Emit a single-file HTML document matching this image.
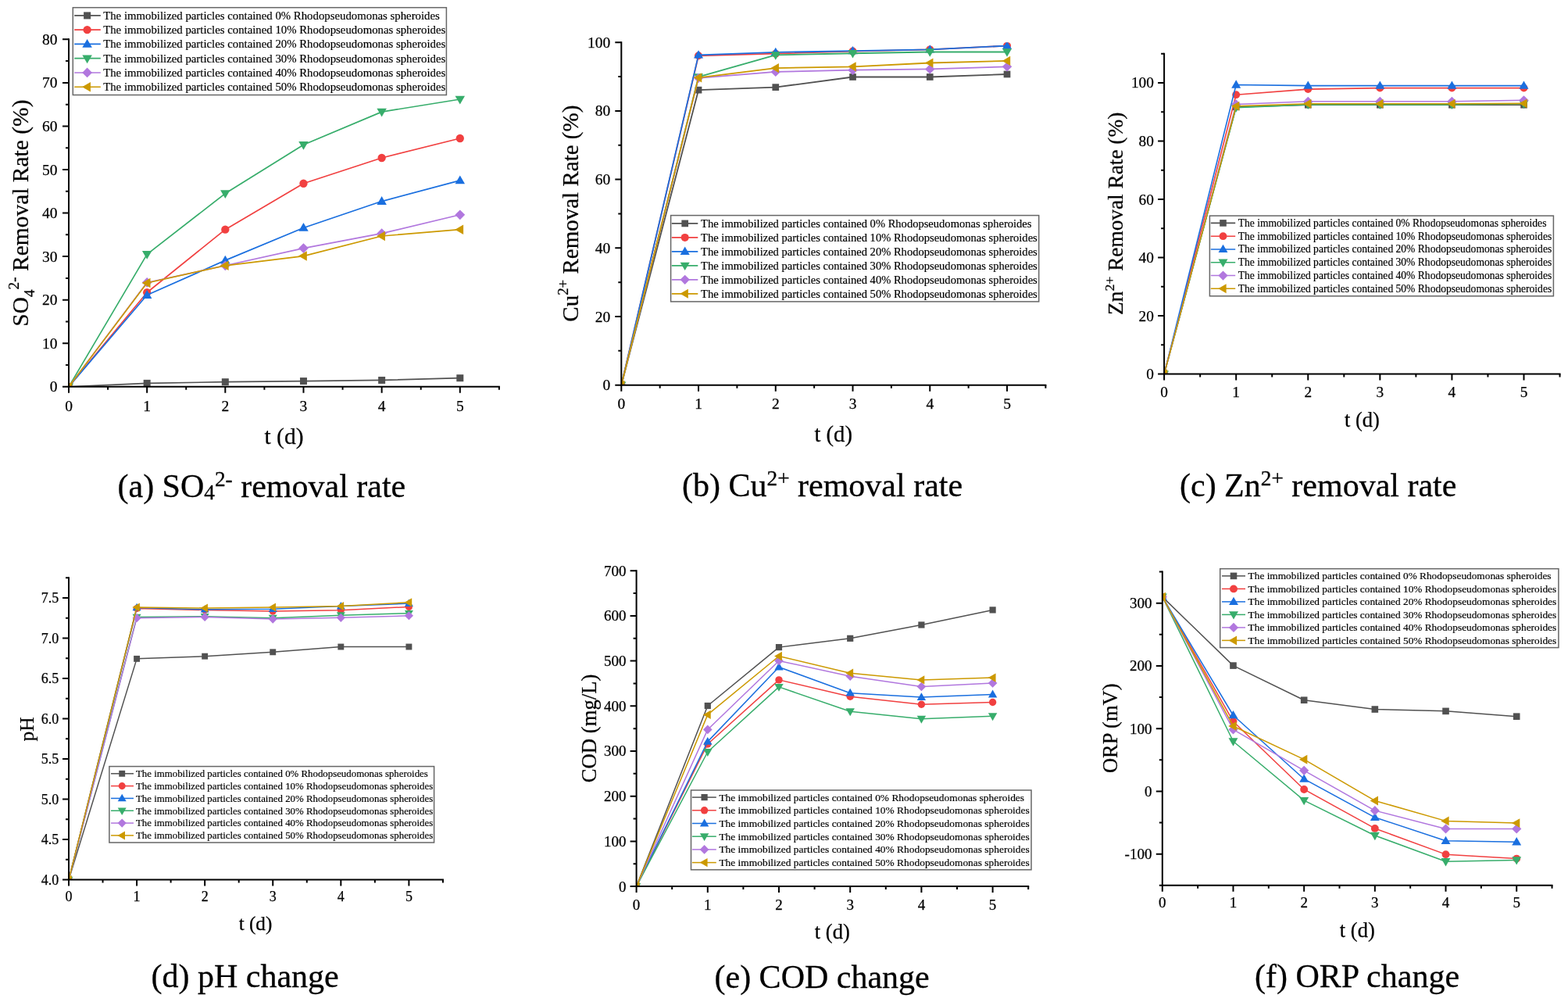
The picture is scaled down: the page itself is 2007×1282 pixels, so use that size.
<!DOCTYPE html>
<html><head><meta charset="utf-8"><title>Figure</title>
<style>
html,body{margin:0;padding:0;background:#fff;width:2007px;height:1282px;overflow:hidden;}
svg{display:block;}
text{font-family:'Liberation Serif', serif;fill:#000;stroke:#000;stroke-width:0.25px;}
text.lg{stroke-width:0.18px;}
text.cp{stroke-width:0.3px;}
</style></head>
<body>
<svg width="2007" height="1282" viewBox="0 0 2007 1282">
<rect width="2007" height="1282" fill="#fff"/>
<clipPath id="c0"><rect x="88.00" y="50.32" width="550.88" height="444.48"/></clipPath>
<g clip-path="url(#c0)">
<path d="M88.00,494.80 L188.16,490.36 L288.32,488.69 L388.48,487.58 L488.64,486.47 L588.80,483.69" fill="none" stroke="#515151" stroke-width="1.7" stroke-linejoin="round"/>
<rect x="83.50" y="490.30" width="9.00" height="9.00" fill="#515151"/>
<rect x="183.66" y="485.86" width="9.00" height="9.00" fill="#515151"/>
<rect x="283.82" y="484.19" width="9.00" height="9.00" fill="#515151"/>
<rect x="383.98" y="483.08" width="9.00" height="9.00" fill="#515151"/>
<rect x="484.14" y="481.97" width="9.00" height="9.00" fill="#515151"/>
<rect x="584.30" y="479.19" width="9.00" height="9.00" fill="#515151"/>
<path d="M88.00,494.80 L188.16,374.23 L288.32,293.67 L388.48,234.78 L488.64,202.00 L588.80,177.00" fill="none" stroke="#F14040" stroke-width="1.7" stroke-linejoin="round"/>
<circle cx="88.00" cy="494.80" r="5.17" fill="#F14040"/>
<circle cx="188.16" cy="374.23" r="5.17" fill="#F14040"/>
<circle cx="288.32" cy="293.67" r="5.17" fill="#F14040"/>
<circle cx="388.48" cy="234.78" r="5.17" fill="#F14040"/>
<circle cx="488.64" cy="202.00" r="5.17" fill="#F14040"/>
<circle cx="588.80" cy="177.00" r="5.17" fill="#F14040"/>
<path d="M88.00,494.80 L188.16,377.57 L288.32,333.12 L388.48,291.45 L488.64,257.56 L588.80,230.89" fill="none" stroke="#1A6FDF" stroke-width="1.7" stroke-linejoin="round"/>
<polygon points="88.00,488.32 81.75,499.12 94.25,499.12" fill="#1A6FDF"/>
<polygon points="188.16,371.09 181.91,381.89 194.41,381.89" fill="#1A6FDF"/>
<polygon points="288.32,326.64 282.06,337.44 294.57,337.44" fill="#1A6FDF"/>
<polygon points="388.48,284.97 382.23,295.77 394.74,295.77" fill="#1A6FDF"/>
<polygon points="488.64,251.08 482.38,261.88 494.89,261.88" fill="#1A6FDF"/>
<polygon points="588.80,224.41 582.54,235.21 595.05,235.21" fill="#1A6FDF"/>
<path d="M88.00,494.80 L188.16,325.34 L288.32,247.56 L388.48,185.33 L488.64,143.11 L588.80,126.99" fill="none" stroke="#37AD6B" stroke-width="1.7" stroke-linejoin="round"/>
<polygon points="88.00,501.28 81.75,490.48 94.25,490.48" fill="#37AD6B"/>
<polygon points="188.16,331.82 181.91,321.02 194.41,321.02" fill="#37AD6B"/>
<polygon points="288.32,254.04 282.06,243.24 294.57,243.24" fill="#37AD6B"/>
<polygon points="388.48,191.81 382.23,181.01 394.74,181.01" fill="#37AD6B"/>
<polygon points="488.64,149.59 482.38,138.79 494.89,138.79" fill="#37AD6B"/>
<polygon points="588.80,133.47 582.54,122.67 595.05,122.67" fill="#37AD6B"/>
<path d="M88.00,494.80 L188.16,361.46 L288.32,339.79 L388.48,317.56 L488.64,298.67 L588.80,274.78" fill="none" stroke="#B177DE" stroke-width="1.7" stroke-linejoin="round"/>
<polygon points="88.00,488.41 94.39,494.80 88.00,501.19 81.61,494.80" fill="#B177DE"/>
<polygon points="188.16,355.07 194.55,361.46 188.16,367.85 181.77,361.46" fill="#B177DE"/>
<polygon points="288.32,333.40 294.71,339.79 288.32,346.18 281.93,339.79" fill="#B177DE"/>
<polygon points="388.48,311.17 394.87,317.56 388.48,323.95 382.09,317.56" fill="#B177DE"/>
<polygon points="488.64,292.28 495.03,298.67 488.64,305.06 482.25,298.67" fill="#B177DE"/>
<polygon points="588.80,268.39 595.19,274.78 588.80,281.17 582.41,274.78" fill="#B177DE"/>
<path d="M88.00,494.80 L188.16,362.01 L288.32,339.79 L388.48,327.56 L488.64,302.01 L588.80,293.67" fill="none" stroke="#CC9900" stroke-width="1.7" stroke-linejoin="round"/>
<polygon points="81.52,494.80 92.32,488.55 92.32,501.06" fill="#CC9900"/>
<polygon points="181.68,362.01 192.48,355.76 192.48,368.27" fill="#CC9900"/>
<polygon points="281.84,339.79 292.64,333.53 292.64,346.04" fill="#CC9900"/>
<polygon points="382.00,327.56 392.80,321.31 392.80,333.82" fill="#CC9900"/>
<polygon points="482.16,302.01 492.96,295.75 492.96,308.26" fill="#CC9900"/>
<polygon points="582.32,293.67 593.12,287.42 593.12,299.93" fill="#CC9900"/>
</g>
<path d="M88.00,49.32 V494.80 H639.88" fill="none" stroke="#000" stroke-width="2.0" stroke-linecap="butt" stroke-linejoin="miter"/>
<path d="M88.00,494.80 v8.00 M138.08,494.80 v4.00 M188.16,494.80 v8.00 M238.24,494.80 v4.00 M288.32,494.80 v8.00 M338.40,494.80 v4.00 M388.48,494.80 v8.00 M438.56,494.80 v4.00 M488.64,494.80 v8.00 M538.72,494.80 v4.00 M588.80,494.80 v8.00 M638.88,494.80 v4.00 M88.00,494.80 h-8.00 M88.00,467.02 h-4.00 M88.00,439.24 h-8.00 M88.00,411.46 h-4.00 M88.00,383.68 h-8.00 M88.00,355.90 h-4.00 M88.00,328.12 h-8.00 M88.00,300.34 h-4.00 M88.00,272.56 h-8.00 M88.00,244.78 h-4.00 M88.00,217.00 h-8.00 M88.00,189.22 h-4.00 M88.00,161.44 h-8.00 M88.00,133.66 h-4.00 M88.00,105.88 h-8.00 M88.00,78.10 h-4.00 M88.00,50.32 h-8.00" fill="none" stroke="#000" stroke-width="2.0"/>
<text x="88.00" y="525.80" font-size="19.5" text-anchor="middle">0</text>
<text x="188.16" y="525.80" font-size="19.5" text-anchor="middle">1</text>
<text x="288.32" y="525.80" font-size="19.5" text-anchor="middle">2</text>
<text x="388.48" y="525.80" font-size="19.5" text-anchor="middle">3</text>
<text x="488.64" y="525.80" font-size="19.5" text-anchor="middle">4</text>
<text x="588.80" y="525.80" font-size="19.5" text-anchor="middle">5</text>
<text x="73.50" y="501.39" font-size="19.5" text-anchor="end">0</text>
<text x="73.50" y="445.83" font-size="19.5" text-anchor="end">10</text>
<text x="73.50" y="390.27" font-size="19.5" text-anchor="end">20</text>
<text x="73.50" y="334.71" font-size="19.5" text-anchor="end">30</text>
<text x="73.50" y="279.15" font-size="19.5" text-anchor="end">40</text>
<text x="73.50" y="223.59" font-size="19.5" text-anchor="end">50</text>
<text x="73.50" y="168.03" font-size="19.5" text-anchor="end">60</text>
<text x="73.50" y="112.47" font-size="19.5" text-anchor="end">70</text>
<text x="73.50" y="56.91" font-size="19.5" text-anchor="end">80</text>
<rect x="93.30" y="9.70" width="478.10" height="111.80" fill="#fff" stroke="#666" stroke-width="1.5"/>
<line x1="95.20" y1="19.90" x2="128.80" y2="19.90" stroke="#515151" stroke-width="1.7"/>
<rect x="107.10" y="15.40" width="9.00" height="9.00" fill="#515151"/>
<text x="132.20" y="24.78" font-size="14.8" text-anchor="start" class="lg">The immobilized particles contained 0% Rhodopseudomonas spheroides</text>
<line x1="95.20" y1="38.17" x2="128.80" y2="38.17" stroke="#F14040" stroke-width="1.7"/>
<circle cx="111.60" cy="38.17" r="5.17" fill="#F14040"/>
<text x="132.20" y="43.05" font-size="14.8" text-anchor="start" class="lg">The immobilized particles contained 10% Rhodopseudomonas spheroides</text>
<line x1="95.20" y1="56.44" x2="128.80" y2="56.44" stroke="#1A6FDF" stroke-width="1.7"/>
<polygon points="111.60,49.96 105.34,60.76 117.85,60.76" fill="#1A6FDF"/>
<text x="132.20" y="61.32" font-size="14.8" text-anchor="start" class="lg">The immobilized particles contained 20% Rhodopseudomonas spheroides</text>
<line x1="95.20" y1="74.71" x2="128.80" y2="74.71" stroke="#37AD6B" stroke-width="1.7"/>
<polygon points="111.60,81.19 105.34,70.39 117.85,70.39" fill="#37AD6B"/>
<text x="132.20" y="79.59" font-size="14.8" text-anchor="start" class="lg">The immobilized particles contained 30% Rhodopseudomonas spheroides</text>
<line x1="95.20" y1="92.98" x2="128.80" y2="92.98" stroke="#B177DE" stroke-width="1.7"/>
<polygon points="111.60,86.59 117.99,92.98 111.60,99.37 105.21,92.98" fill="#B177DE"/>
<text x="132.20" y="97.86" font-size="14.8" text-anchor="start" class="lg">The immobilized particles contained 40% Rhodopseudomonas spheroides</text>
<line x1="95.20" y1="111.25" x2="128.80" y2="111.25" stroke="#CC9900" stroke-width="1.7"/>
<polygon points="105.12,111.25 115.92,105.00 115.92,117.50" fill="#CC9900"/>
<text x="132.20" y="116.13" font-size="14.8" text-anchor="start" class="lg">The immobilized particles contained 50% Rhodopseudomonas spheroides</text>
<text transform="translate(36.00,272.60) rotate(-90)" font-size="29.5" text-anchor="middle">SO<tspan font-size="19.18" dy="7.67">4</tspan><tspan font-size="19.18" dy="-20.06">2-</tspan><tspan dy="12.39"> Removal Rate (%)</tspan></text>
<text x="363.50" y="567.80" font-size="29.5" text-anchor="middle">t (d)</text>
<text class="cp" x="150.50" y="636.00" font-size="42">(a) SO<tspan font-size="27.30" dy="2.94">4</tspan><tspan font-size="27.30" dy="-17.43">2-</tspan><tspan dy="14.49"> removal rate</tspan></text>
<clipPath id="c1"><rect x="795.30" y="54.20" width="543.07" height="438.50"/></clipPath>
<g clip-path="url(#c1)">
<path d="M795.30,492.70 L894.04,115.15 L992.78,111.64 L1091.52,98.49 L1190.26,98.49 L1289.00,94.98" fill="none" stroke="#515151" stroke-width="1.8" stroke-linejoin="round"/>
<rect x="790.95" y="488.35" width="8.70" height="8.70" fill="#515151"/>
<rect x="889.69" y="110.80" width="8.70" height="8.70" fill="#515151"/>
<rect x="988.43" y="107.29" width="8.70" height="8.70" fill="#515151"/>
<rect x="1087.17" y="94.14" width="8.70" height="8.70" fill="#515151"/>
<rect x="1185.91" y="94.14" width="8.70" height="8.70" fill="#515151"/>
<rect x="1284.65" y="90.63" width="8.70" height="8.70" fill="#515151"/>
<path d="M795.30,492.70 L894.04,71.30 L992.78,68.67 L1091.52,65.60 L1190.26,63.41 L1289.00,58.59" fill="none" stroke="#F14040" stroke-width="1.8" stroke-linejoin="round"/>
<circle cx="795.30" cy="492.70" r="5.00" fill="#F14040"/>
<circle cx="894.04" cy="71.30" r="5.00" fill="#F14040"/>
<circle cx="992.78" cy="68.67" r="5.00" fill="#F14040"/>
<circle cx="1091.52" cy="65.60" r="5.00" fill="#F14040"/>
<circle cx="1190.26" cy="63.41" r="5.00" fill="#F14040"/>
<circle cx="1289.00" cy="58.59" r="5.00" fill="#F14040"/>
<path d="M795.30,492.70 L894.04,70.42 L992.78,66.92 L1091.52,65.16 L1190.26,63.41 L1289.00,58.59" fill="none" stroke="#1A6FDF" stroke-width="1.8" stroke-linejoin="round"/>
<polygon points="795.30,486.44 789.25,496.88 801.35,496.88" fill="#1A6FDF"/>
<polygon points="894.04,64.16 887.99,74.60 900.09,74.60" fill="#1A6FDF"/>
<polygon points="992.78,60.65 986.73,71.09 998.83,71.09" fill="#1A6FDF"/>
<polygon points="1091.52,58.90 1085.47,69.34 1097.57,69.34" fill="#1A6FDF"/>
<polygon points="1190.26,57.14 1184.21,67.58 1196.31,67.58" fill="#1A6FDF"/>
<polygon points="1289.00,52.32 1282.95,62.76 1295.05,62.76" fill="#1A6FDF"/>
<path d="M795.30,492.70 L894.04,98.49 L992.78,70.42 L1091.52,68.23 L1190.26,66.48 L1289.00,66.48" fill="none" stroke="#37AD6B" stroke-width="1.8" stroke-linejoin="round"/>
<polygon points="795.30,498.96 789.25,488.52 801.35,488.52" fill="#37AD6B"/>
<polygon points="894.04,104.75 887.99,94.31 900.09,94.31" fill="#37AD6B"/>
<polygon points="992.78,76.69 986.73,66.25 998.83,66.25" fill="#37AD6B"/>
<polygon points="1091.52,74.50 1085.47,64.06 1097.57,64.06" fill="#37AD6B"/>
<polygon points="1190.26,72.74 1184.21,62.30 1196.31,62.30" fill="#37AD6B"/>
<polygon points="1289.00,72.74 1282.95,62.30 1295.05,62.30" fill="#37AD6B"/>
<path d="M795.30,492.70 L894.04,99.80 L992.78,91.91 L1091.52,89.72 L1190.26,88.40 L1289.00,85.33" fill="none" stroke="#B177DE" stroke-width="1.8" stroke-linejoin="round"/>
<polygon points="795.30,486.52 801.48,492.70 795.30,498.88 789.12,492.70" fill="#B177DE"/>
<polygon points="894.04,93.63 900.22,99.80 894.04,105.98 887.86,99.80" fill="#B177DE"/>
<polygon points="992.78,85.73 998.96,91.91 992.78,98.09 986.60,91.91" fill="#B177DE"/>
<polygon points="1091.52,83.54 1097.70,89.72 1091.52,95.90 1085.34,89.72" fill="#B177DE"/>
<polygon points="1190.26,82.23 1196.44,88.40 1190.26,94.58 1184.08,88.40" fill="#B177DE"/>
<polygon points="1289.00,79.16 1295.18,85.33 1289.00,91.51 1282.82,85.33" fill="#B177DE"/>
<path d="M795.30,492.70 L894.04,99.37 L992.78,87.09 L1091.52,85.33 L1190.26,80.51 L1289.00,77.88" fill="none" stroke="#CC9900" stroke-width="1.8" stroke-linejoin="round"/>
<polygon points="789.04,492.70 799.48,486.65 799.48,498.75" fill="#CC9900"/>
<polygon points="887.78,99.37 898.22,93.32 898.22,105.41" fill="#CC9900"/>
<polygon points="986.52,87.09 996.96,81.04 996.96,93.13" fill="#CC9900"/>
<polygon points="1085.26,85.33 1095.70,79.29 1095.70,91.38" fill="#CC9900"/>
<polygon points="1184.00,80.51 1194.44,74.46 1194.44,86.56" fill="#CC9900"/>
<polygon points="1282.74,77.88 1293.18,71.83 1293.18,83.93" fill="#CC9900"/>
</g>
<path d="M795.30,53.20 V492.70 H1339.37" fill="none" stroke="#000" stroke-width="2.0" stroke-linecap="butt" stroke-linejoin="miter"/>
<path d="M795.30,492.70 v8.00 M844.67,492.70 v4.00 M894.04,492.70 v8.00 M943.41,492.70 v4.00 M992.78,492.70 v8.00 M1042.15,492.70 v4.00 M1091.52,492.70 v8.00 M1140.89,492.70 v4.00 M1190.26,492.70 v8.00 M1239.63,492.70 v4.00 M1289.00,492.70 v8.00 M1338.37,492.70 v4.00 M795.30,492.70 h-8.00 M795.30,448.85 h-4.00 M795.30,405.00 h-8.00 M795.30,361.15 h-4.00 M795.30,317.30 h-8.00 M795.30,273.45 h-4.00 M795.30,229.60 h-8.00 M795.30,185.75 h-4.00 M795.30,141.90 h-8.00 M795.30,98.05 h-4.00 M795.30,54.20 h-8.00" fill="none" stroke="#000" stroke-width="2.0"/>
<text x="795.30" y="522.50" font-size="19.5" text-anchor="middle">0</text>
<text x="894.04" y="522.50" font-size="19.5" text-anchor="middle">1</text>
<text x="992.78" y="522.50" font-size="19.5" text-anchor="middle">2</text>
<text x="1091.52" y="522.50" font-size="19.5" text-anchor="middle">3</text>
<text x="1190.26" y="522.50" font-size="19.5" text-anchor="middle">4</text>
<text x="1289.00" y="522.50" font-size="19.5" text-anchor="middle">5</text>
<text x="781.20" y="499.29" font-size="19.5" text-anchor="end">0</text>
<text x="781.20" y="411.59" font-size="19.5" text-anchor="end">20</text>
<text x="781.20" y="323.89" font-size="19.5" text-anchor="end">40</text>
<text x="781.20" y="236.19" font-size="19.5" text-anchor="end">60</text>
<text x="781.20" y="148.49" font-size="19.5" text-anchor="end">80</text>
<text x="781.20" y="60.79" font-size="19.5" text-anchor="end">100</text>
<rect x="858.60" y="275.60" width="471.10" height="110.30" fill="#fff" stroke="#666" stroke-width="1.5"/>
<line x1="859.80" y1="285.90" x2="893.30" y2="285.90" stroke="#515151" stroke-width="1.8"/>
<rect x="872.35" y="281.55" width="8.70" height="8.70" fill="#515151"/>
<text x="897.10" y="290.70" font-size="14.55" text-anchor="start" class="lg">The immobilized particles contained 0% Rhodopseudomonas spheroides</text>
<line x1="859.80" y1="303.88" x2="893.30" y2="303.88" stroke="#F14040" stroke-width="1.8"/>
<circle cx="876.70" cy="303.88" r="5.00" fill="#F14040"/>
<text x="897.10" y="308.68" font-size="14.55" text-anchor="start" class="lg">The immobilized particles contained 10% Rhodopseudomonas spheroides</text>
<line x1="859.80" y1="321.86" x2="893.30" y2="321.86" stroke="#1A6FDF" stroke-width="1.8"/>
<polygon points="876.70,315.60 870.65,326.04 882.75,326.04" fill="#1A6FDF"/>
<text x="897.10" y="326.66" font-size="14.55" text-anchor="start" class="lg">The immobilized particles contained 20% Rhodopseudomonas spheroides</text>
<line x1="859.80" y1="339.84" x2="893.30" y2="339.84" stroke="#37AD6B" stroke-width="1.8"/>
<polygon points="876.70,346.10 870.65,335.66 882.75,335.66" fill="#37AD6B"/>
<text x="897.10" y="344.64" font-size="14.55" text-anchor="start" class="lg">The immobilized particles contained 30% Rhodopseudomonas spheroides</text>
<line x1="859.80" y1="357.82" x2="893.30" y2="357.82" stroke="#B177DE" stroke-width="1.8"/>
<polygon points="876.70,351.64 882.88,357.82 876.70,364.00 870.52,357.82" fill="#B177DE"/>
<text x="897.10" y="362.62" font-size="14.55" text-anchor="start" class="lg">The immobilized particles contained 40% Rhodopseudomonas spheroides</text>
<line x1="859.80" y1="375.80" x2="893.30" y2="375.80" stroke="#CC9900" stroke-width="1.8"/>
<polygon points="870.44,375.80 880.88,369.75 880.88,381.85" fill="#CC9900"/>
<text x="897.10" y="380.60" font-size="14.55" text-anchor="start" class="lg">The immobilized particles contained 50% Rhodopseudomonas spheroides</text>
<text transform="translate(739.50,273.20) rotate(-90)" font-size="29" text-anchor="middle">Cu<tspan font-size="18.85" dy="-12.18">2+</tspan><tspan dy="12.18"> Removal Rate (%)</tspan></text>
<text x="1066.70" y="565.00" font-size="28.7" text-anchor="middle">t (d)</text>
<text class="cp" x="873.00" y="635.40" font-size="42">(b) Cu<tspan font-size="27.30" dy="-14.49">2+</tspan><tspan dy="14.49"> removal rate</tspan></text>
<clipPath id="c2"><rect x="1490.10" y="68.63" width="506.44" height="409.97"/></clipPath>
<g clip-path="url(#c2)">
<path d="M1490.10,478.60 L1582.18,136.83 L1674.26,134.23 L1766.34,134.23 L1858.42,134.23 L1950.50,134.23" fill="none" stroke="#515151" stroke-width="1.6" stroke-linejoin="round"/>
<rect x="1485.80" y="474.30" width="8.60" height="8.60" fill="#515151"/>
<rect x="1577.88" y="132.53" width="8.60" height="8.60" fill="#515151"/>
<rect x="1669.96" y="129.93" width="8.60" height="8.60" fill="#515151"/>
<rect x="1762.04" y="129.93" width="8.60" height="8.60" fill="#515151"/>
<rect x="1854.12" y="129.93" width="8.60" height="8.60" fill="#515151"/>
<rect x="1946.20" y="129.93" width="8.60" height="8.60" fill="#515151"/>
<path d="M1490.10,478.60 L1582.18,121.18 L1674.26,114.10 L1766.34,112.61 L1858.42,112.61 L1950.50,112.61" fill="none" stroke="#F14040" stroke-width="1.6" stroke-linejoin="round"/>
<circle cx="1490.10" cy="478.60" r="4.94" fill="#F14040"/>
<circle cx="1582.18" cy="121.18" r="4.94" fill="#F14040"/>
<circle cx="1674.26" cy="114.10" r="4.94" fill="#F14040"/>
<circle cx="1766.34" cy="112.61" r="4.94" fill="#F14040"/>
<circle cx="1858.42" cy="112.61" r="4.94" fill="#F14040"/>
<circle cx="1950.50" cy="112.61" r="4.94" fill="#F14040"/>
<path d="M1490.10,478.60 L1582.18,108.51 L1674.26,109.63 L1766.34,109.63 L1858.42,109.63 L1950.50,109.63" fill="none" stroke="#1A6FDF" stroke-width="1.6" stroke-linejoin="round"/>
<polygon points="1490.10,472.41 1484.12,482.73 1496.08,482.73" fill="#1A6FDF"/>
<polygon points="1582.18,102.32 1576.20,112.64 1588.16,112.64" fill="#1A6FDF"/>
<polygon points="1674.26,103.44 1668.28,113.76 1680.24,113.76" fill="#1A6FDF"/>
<polygon points="1766.34,103.44 1760.36,113.76 1772.32,113.76" fill="#1A6FDF"/>
<polygon points="1858.42,103.44 1852.44,113.76 1864.40,113.76" fill="#1A6FDF"/>
<polygon points="1950.50,103.44 1944.52,113.76 1956.48,113.76" fill="#1A6FDF"/>
<path d="M1490.10,478.60 L1582.18,137.58 L1674.26,133.85 L1766.34,133.85 L1858.42,133.85 L1950.50,132.73" fill="none" stroke="#37AD6B" stroke-width="1.6" stroke-linejoin="round"/>
<polygon points="1490.10,484.79 1484.12,474.47 1496.08,474.47" fill="#37AD6B"/>
<polygon points="1582.18,143.77 1576.20,133.45 1588.16,133.45" fill="#37AD6B"/>
<polygon points="1674.26,140.04 1668.28,129.72 1680.24,129.72" fill="#37AD6B"/>
<polygon points="1766.34,140.04 1760.36,129.72 1772.32,129.72" fill="#37AD6B"/>
<polygon points="1858.42,140.04 1852.44,129.72 1864.40,129.72" fill="#37AD6B"/>
<polygon points="1950.50,138.93 1944.52,128.61 1956.48,128.61" fill="#37AD6B"/>
<path d="M1490.10,478.60 L1582.18,133.48 L1674.26,129.75 L1766.34,129.75 L1858.42,129.75 L1950.50,128.26" fill="none" stroke="#B177DE" stroke-width="1.6" stroke-linejoin="round"/>
<polygon points="1490.10,472.49 1496.21,478.60 1490.10,484.71 1483.99,478.60" fill="#B177DE"/>
<polygon points="1582.18,127.37 1588.29,133.48 1582.18,139.59 1576.07,133.48" fill="#B177DE"/>
<polygon points="1674.26,123.65 1680.37,129.75 1674.26,135.86 1668.15,129.75" fill="#B177DE"/>
<polygon points="1766.34,123.65 1772.45,129.75 1766.34,135.86 1760.23,129.75" fill="#B177DE"/>
<polygon points="1858.42,123.65 1864.53,129.75 1858.42,135.86 1852.31,129.75" fill="#B177DE"/>
<polygon points="1950.50,122.16 1956.61,128.26 1950.50,134.37 1944.39,128.26" fill="#B177DE"/>
<path d="M1490.10,478.60 L1582.18,135.72 L1674.26,132.73 L1766.34,132.73 L1858.42,132.73 L1950.50,132.36" fill="none" stroke="#CC9900" stroke-width="1.6" stroke-linejoin="round"/>
<polygon points="1483.91,478.60 1494.23,472.62 1494.23,484.58" fill="#CC9900"/>
<polygon points="1575.99,135.72 1586.31,129.74 1586.31,141.69" fill="#CC9900"/>
<polygon points="1668.07,132.73 1678.39,126.76 1678.39,138.71" fill="#CC9900"/>
<polygon points="1760.15,132.73 1770.47,126.76 1770.47,138.71" fill="#CC9900"/>
<polygon points="1852.23,132.73 1862.55,126.76 1862.55,138.71" fill="#CC9900"/>
<polygon points="1944.31,132.36 1954.63,126.38 1954.63,138.34" fill="#CC9900"/>
</g>
<path d="M1490.10,67.63 V478.60 H1997.54" fill="none" stroke="#000" stroke-width="2.0" stroke-linecap="butt" stroke-linejoin="miter"/>
<path d="M1490.10,478.60 v8.00 M1536.14,478.60 v4.00 M1582.18,478.60 v8.00 M1628.22,478.60 v4.00 M1674.26,478.60 v8.00 M1720.30,478.60 v4.00 M1766.34,478.60 v8.00 M1812.38,478.60 v4.00 M1858.42,478.60 v8.00 M1904.46,478.60 v4.00 M1950.50,478.60 v8.00 M1996.54,478.60 v4.00 M1490.10,478.60 h-8.00 M1490.10,441.33 h-4.00 M1490.10,404.06 h-8.00 M1490.10,366.79 h-4.00 M1490.10,329.52 h-8.00 M1490.10,292.25 h-4.00 M1490.10,254.98 h-8.00 M1490.10,217.71 h-4.00 M1490.10,180.44 h-8.00 M1490.10,143.17 h-4.00 M1490.10,105.90 h-8.00 M1490.10,68.63 h-4.00" fill="none" stroke="#000" stroke-width="2.0"/>
<text x="1490.10" y="507.70" font-size="19.3" text-anchor="middle">0</text>
<text x="1582.18" y="507.70" font-size="19.3" text-anchor="middle">1</text>
<text x="1674.26" y="507.70" font-size="19.3" text-anchor="middle">2</text>
<text x="1766.34" y="507.70" font-size="19.3" text-anchor="middle">3</text>
<text x="1858.42" y="507.70" font-size="19.3" text-anchor="middle">4</text>
<text x="1950.50" y="507.70" font-size="19.3" text-anchor="middle">5</text>
<text x="1476.90" y="485.12" font-size="19.3" text-anchor="end">0</text>
<text x="1476.90" y="410.58" font-size="19.3" text-anchor="end">20</text>
<text x="1476.90" y="336.04" font-size="19.3" text-anchor="end">40</text>
<text x="1476.90" y="261.50" font-size="19.3" text-anchor="end">60</text>
<text x="1476.90" y="186.96" font-size="19.3" text-anchor="end">80</text>
<text x="1476.90" y="112.42" font-size="19.3" text-anchor="end">100</text>
<rect x="1548.40" y="276.10" width="440.00" height="102.70" fill="#fff" stroke="#666" stroke-width="1.5"/>
<line x1="1549.80" y1="285.40" x2="1581.20" y2="285.40" stroke="#515151" stroke-width="1.6"/>
<rect x="1561.20" y="281.10" width="8.60" height="8.60" fill="#515151"/>
<text x="1584.70" y="289.88" font-size="13.57" text-anchor="start" class="lg">The immobilized particles contained 0% Rhodopseudomonas spheroides</text>
<line x1="1549.80" y1="302.18" x2="1581.20" y2="302.18" stroke="#F14040" stroke-width="1.6"/>
<circle cx="1565.50" cy="302.18" r="4.94" fill="#F14040"/>
<text x="1584.70" y="306.66" font-size="13.57" text-anchor="start" class="lg">The immobilized particles contained 10% Rhodopseudomonas spheroides</text>
<line x1="1549.80" y1="318.96" x2="1581.20" y2="318.96" stroke="#1A6FDF" stroke-width="1.6"/>
<polygon points="1565.50,312.77 1559.52,323.09 1571.48,323.09" fill="#1A6FDF"/>
<text x="1584.70" y="323.44" font-size="13.57" text-anchor="start" class="lg">The immobilized particles contained 20% Rhodopseudomonas spheroides</text>
<line x1="1549.80" y1="335.74" x2="1581.20" y2="335.74" stroke="#37AD6B" stroke-width="1.6"/>
<polygon points="1565.50,341.93 1559.52,331.61 1571.48,331.61" fill="#37AD6B"/>
<text x="1584.70" y="340.22" font-size="13.57" text-anchor="start" class="lg">The immobilized particles contained 30% Rhodopseudomonas spheroides</text>
<line x1="1549.80" y1="352.52" x2="1581.20" y2="352.52" stroke="#B177DE" stroke-width="1.6"/>
<polygon points="1565.50,346.41 1571.61,352.52 1565.50,358.63 1559.39,352.52" fill="#B177DE"/>
<text x="1584.70" y="357.00" font-size="13.57" text-anchor="start" class="lg">The immobilized particles contained 40% Rhodopseudomonas spheroides</text>
<line x1="1549.80" y1="369.30" x2="1581.20" y2="369.30" stroke="#CC9900" stroke-width="1.6"/>
<polygon points="1559.31,369.30 1569.63,363.32 1569.63,375.28" fill="#CC9900"/>
<text x="1584.70" y="373.78" font-size="13.57" text-anchor="start" class="lg">The immobilized particles contained 50% Rhodopseudomonas spheroides</text>
<text transform="translate(1437.00,273.30) rotate(-90)" font-size="27.3" text-anchor="middle">Zn<tspan font-size="17.75" dy="-11.47">2+</tspan><tspan dy="11.47"> Removal Rate (%)</tspan></text>
<text x="1743.40" y="545.50" font-size="26.5" text-anchor="middle">t (d)</text>
<text class="cp" x="1510.00" y="635.40" font-size="42">(c) Zn<tspan font-size="27.30" dy="-14.49">2+</tspan><tspan dy="14.49"> removal rate</tspan></text>
<clipPath id="c3"><rect x="88.00" y="739.35" width="478.94" height="386.25"/></clipPath>
<g clip-path="url(#c3)">
<path d="M88.00,1125.60 L175.08,842.86 L262.16,839.67 L349.24,834.32 L436.32,827.52 L523.40,827.52" fill="none" stroke="#515151" stroke-width="1.5" stroke-linejoin="round"/>
<rect x="84.05" y="1121.65" width="7.90" height="7.90" fill="#515151"/>
<rect x="171.13" y="838.91" width="7.90" height="7.90" fill="#515151"/>
<rect x="258.21" y="835.72" width="7.90" height="7.90" fill="#515151"/>
<rect x="345.29" y="830.37" width="7.90" height="7.90" fill="#515151"/>
<rect x="432.37" y="823.57" width="7.90" height="7.90" fill="#515151"/>
<rect x="519.45" y="823.57" width="7.90" height="7.90" fill="#515151"/>
<path d="M88.00,1125.60 L175.08,778.49 L262.16,780.55 L349.24,782.09 L436.32,780.65 L523.40,776.43" fill="none" stroke="#F14040" stroke-width="1.5" stroke-linejoin="round"/>
<circle cx="88.00" cy="1125.60" r="4.54" fill="#F14040"/>
<circle cx="175.08" cy="778.49" r="4.54" fill="#F14040"/>
<circle cx="262.16" cy="780.55" r="4.54" fill="#F14040"/>
<circle cx="349.24" cy="782.09" r="4.54" fill="#F14040"/>
<circle cx="436.32" cy="780.65" r="4.54" fill="#F14040"/>
<circle cx="523.40" cy="776.43" r="4.54" fill="#F14040"/>
<path d="M88.00,1125.60 L175.08,777.46 L262.16,779.83 L349.24,779.31 L436.32,775.61 L523.40,772.10" fill="none" stroke="#1A6FDF" stroke-width="1.5" stroke-linejoin="round"/>
<polygon points="88.00,1119.91 82.51,1129.39 93.49,1129.39" fill="#1A6FDF"/>
<polygon points="175.08,771.77 169.59,781.25 180.57,781.25" fill="#1A6FDF"/>
<polygon points="262.16,774.14 256.67,783.62 267.65,783.62" fill="#1A6FDF"/>
<polygon points="349.24,773.63 343.75,783.11 354.73,783.11" fill="#1A6FDF"/>
<polygon points="436.32,769.92 430.83,779.40 441.81,779.40" fill="#1A6FDF"/>
<polygon points="523.40,766.42 517.91,775.90 528.89,775.90" fill="#1A6FDF"/>
<path d="M88.00,1125.60 L175.08,789.61 L262.16,788.79 L349.24,790.64 L436.32,787.14 L523.40,784.67" fill="none" stroke="#37AD6B" stroke-width="1.5" stroke-linejoin="round"/>
<polygon points="88.00,1131.29 82.51,1121.81 93.49,1121.81" fill="#37AD6B"/>
<polygon points="175.08,795.30 169.59,785.82 180.57,785.82" fill="#37AD6B"/>
<polygon points="262.16,794.48 256.67,785.00 267.65,785.00" fill="#37AD6B"/>
<polygon points="349.24,796.33 343.75,786.85 354.73,786.85" fill="#37AD6B"/>
<polygon points="436.32,792.83 430.83,783.35 441.81,783.35" fill="#37AD6B"/>
<polygon points="523.40,790.36 517.91,780.88 528.89,780.88" fill="#37AD6B"/>
<path d="M88.00,1125.60 L175.08,790.64 L262.16,789.41 L349.24,792.09 L436.32,790.33 L523.40,787.76" fill="none" stroke="#B177DE" stroke-width="1.5" stroke-linejoin="round"/>
<polygon points="88.00,1119.99 93.61,1125.60 88.00,1131.21 82.39,1125.60" fill="#B177DE"/>
<polygon points="175.08,785.03 180.69,790.64 175.08,796.25 169.47,790.64" fill="#B177DE"/>
<polygon points="262.16,783.80 267.77,789.41 262.16,795.02 256.55,789.41" fill="#B177DE"/>
<polygon points="349.24,786.48 354.85,792.09 349.24,797.69 343.63,792.09" fill="#B177DE"/>
<polygon points="436.32,784.73 441.93,790.33 436.32,795.94 430.71,790.33" fill="#B177DE"/>
<polygon points="523.40,782.15 529.01,787.76 523.40,793.37 517.79,787.76" fill="#B177DE"/>
<path d="M88.00,1125.60 L175.08,776.94 L262.16,777.97 L349.24,777.05 L436.32,775.40 L523.40,770.76" fill="none" stroke="#CC9900" stroke-width="1.5" stroke-linejoin="round"/>
<polygon points="82.31,1125.60 91.79,1120.11 91.79,1131.09" fill="#CC9900"/>
<polygon points="169.39,776.94 178.87,771.45 178.87,782.44" fill="#CC9900"/>
<polygon points="256.47,777.97 265.95,772.48 265.95,783.47" fill="#CC9900"/>
<polygon points="343.55,777.05 353.03,771.56 353.03,782.54" fill="#CC9900"/>
<polygon points="430.63,775.40 440.11,769.91 440.11,780.89" fill="#CC9900"/>
<polygon points="517.71,770.76 527.19,765.27 527.19,776.26" fill="#CC9900"/>
</g>
<path d="M88.00,738.35 V1125.60 H567.94" fill="none" stroke="#000" stroke-width="2.0" stroke-linecap="butt" stroke-linejoin="miter"/>
<path d="M88.00,1125.60 v8.00 M131.54,1125.60 v4.00 M175.08,1125.60 v8.00 M218.62,1125.60 v4.00 M262.16,1125.60 v8.00 M305.70,1125.60 v4.00 M349.24,1125.60 v8.00 M392.78,1125.60 v4.00 M436.32,1125.60 v8.00 M479.86,1125.60 v4.00 M523.40,1125.60 v8.00 M566.94,1125.60 v4.00 M88.00,1125.60 h-8.00 M88.00,1099.85 h-4.00 M88.00,1074.10 h-8.00 M88.00,1048.35 h-4.00 M88.00,1022.60 h-8.00 M88.00,996.85 h-4.00 M88.00,971.10 h-8.00 M88.00,945.35 h-4.00 M88.00,919.60 h-8.00 M88.00,893.85 h-4.00 M88.00,868.10 h-8.00 M88.00,842.35 h-4.00 M88.00,816.60 h-8.00 M88.00,790.85 h-4.00 M88.00,765.10 h-8.00 M88.00,739.35 h-4.00" fill="none" stroke="#000" stroke-width="2.0"/>
<text x="88.00" y="1153.10" font-size="18" text-anchor="middle">0</text>
<text x="175.08" y="1153.10" font-size="18" text-anchor="middle">1</text>
<text x="262.16" y="1153.10" font-size="18" text-anchor="middle">2</text>
<text x="349.24" y="1153.10" font-size="18" text-anchor="middle">3</text>
<text x="436.32" y="1153.10" font-size="18" text-anchor="middle">4</text>
<text x="523.40" y="1153.10" font-size="18" text-anchor="middle">5</text>
<text x="75.20" y="1131.68" font-size="18" text-anchor="end">4.0</text>
<text x="75.20" y="1080.18" font-size="18" text-anchor="end">4.5</text>
<text x="75.20" y="1028.68" font-size="18" text-anchor="end">5.0</text>
<text x="75.20" y="977.18" font-size="18" text-anchor="end">5.5</text>
<text x="75.20" y="925.68" font-size="18" text-anchor="end">6.0</text>
<text x="75.20" y="874.18" font-size="18" text-anchor="end">6.5</text>
<text x="75.20" y="822.68" font-size="18" text-anchor="end">7.0</text>
<text x="75.20" y="771.18" font-size="18" text-anchor="end">7.5</text>
<rect x="139.90" y="980.60" width="415.70" height="97.40" fill="#fff" stroke="#666" stroke-width="1.5"/>
<line x1="142.00" y1="989.80" x2="171.00" y2="989.80" stroke="#515151" stroke-width="1.5"/>
<rect x="152.25" y="985.85" width="7.90" height="7.90" fill="#515151"/>
<text x="174.00" y="994.04" font-size="12.85" text-anchor="start" class="lg">The immobilized particles contained 0% Rhodopseudomonas spheroides</text>
<line x1="142.00" y1="1005.62" x2="171.00" y2="1005.62" stroke="#F14040" stroke-width="1.5"/>
<circle cx="156.20" cy="1005.62" r="4.54" fill="#F14040"/>
<text x="174.00" y="1009.86" font-size="12.85" text-anchor="start" class="lg">The immobilized particles contained 10% Rhodopseudomonas spheroides</text>
<line x1="142.00" y1="1021.44" x2="171.00" y2="1021.44" stroke="#1A6FDF" stroke-width="1.5"/>
<polygon points="156.20,1015.75 150.71,1025.23 161.69,1025.23" fill="#1A6FDF"/>
<text x="174.00" y="1025.68" font-size="12.85" text-anchor="start" class="lg">The immobilized particles contained 20% Rhodopseudomonas spheroides</text>
<line x1="142.00" y1="1037.26" x2="171.00" y2="1037.26" stroke="#37AD6B" stroke-width="1.5"/>
<polygon points="156.20,1042.95 150.71,1033.47 161.69,1033.47" fill="#37AD6B"/>
<text x="174.00" y="1041.50" font-size="12.85" text-anchor="start" class="lg">The immobilized particles contained 30% Rhodopseudomonas spheroides</text>
<line x1="142.00" y1="1053.08" x2="171.00" y2="1053.08" stroke="#B177DE" stroke-width="1.5"/>
<polygon points="156.20,1047.47 161.81,1053.08 156.20,1058.69 150.59,1053.08" fill="#B177DE"/>
<text x="174.00" y="1057.32" font-size="12.85" text-anchor="start" class="lg">The immobilized particles contained 40% Rhodopseudomonas spheroides</text>
<line x1="142.00" y1="1068.90" x2="171.00" y2="1068.90" stroke="#CC9900" stroke-width="1.5"/>
<polygon points="150.51,1068.90 159.99,1063.41 159.99,1074.39" fill="#CC9900"/>
<text x="174.00" y="1073.14" font-size="12.85" text-anchor="start" class="lg">The immobilized particles contained 50% Rhodopseudomonas spheroides</text>
<text transform="translate(42.50,933.00) rotate(-90)" font-size="25.5" text-anchor="middle">pH</text>
<text x="327.00" y="1189.90" font-size="25.2" text-anchor="middle">t (d)</text>
<text class="cp" x="193.50" y="1263.20" font-size="42">(d) pH change</text>
<clipPath id="c4"><rect x="814.60" y="730.20" width="501.60" height="403.90"/></clipPath>
<g clip-path="url(#c4)">
<path d="M814.60,1134.10 L905.80,903.01 L997.00,828.12 L1088.20,816.81 L1179.40,799.50 L1270.60,780.40" fill="none" stroke="#515151" stroke-width="1.5" stroke-linejoin="round"/>
<rect x="810.50" y="1130.00" width="8.20" height="8.20" fill="#515151"/>
<rect x="901.70" y="898.91" width="8.20" height="8.20" fill="#515151"/>
<rect x="992.90" y="824.02" width="8.20" height="8.20" fill="#515151"/>
<rect x="1084.10" y="812.71" width="8.20" height="8.20" fill="#515151"/>
<rect x="1175.30" y="795.40" width="8.20" height="8.20" fill="#515151"/>
<rect x="1266.50" y="776.30" width="8.20" height="8.20" fill="#515151"/>
<path d="M814.60,1134.10 L905.80,952.00 L997.00,869.89 L1088.20,891.18 L1179.40,901.22 L1270.60,898.51" fill="none" stroke="#F14040" stroke-width="1.5" stroke-linejoin="round"/>
<circle cx="814.60" cy="1134.10" r="4.71" fill="#F14040"/>
<circle cx="905.80" cy="952.00" r="4.71" fill="#F14040"/>
<circle cx="997.00" cy="869.89" r="4.71" fill="#F14040"/>
<circle cx="1088.20" cy="891.18" r="4.71" fill="#F14040"/>
<circle cx="1179.40" cy="901.22" r="4.71" fill="#F14040"/>
<circle cx="1270.60" cy="898.51" r="4.71" fill="#F14040"/>
<path d="M814.60,1134.10 L905.80,948.88 L997.00,853.50 L1088.20,886.68 L1179.40,892.11 L1270.60,888.53" fill="none" stroke="#1A6FDF" stroke-width="1.5" stroke-linejoin="round"/>
<polygon points="814.60,1128.20 808.90,1138.04 820.30,1138.04" fill="#1A6FDF"/>
<polygon points="905.80,942.98 900.10,952.82 911.50,952.82" fill="#1A6FDF"/>
<polygon points="997.00,847.60 991.30,857.44 1002.70,857.44" fill="#1A6FDF"/>
<polygon points="1088.20,880.78 1082.50,890.62 1093.90,890.62" fill="#1A6FDF"/>
<polygon points="1179.40,886.20 1173.70,896.04 1185.10,896.04" fill="#1A6FDF"/>
<polygon points="1270.60,882.62 1264.90,892.46 1276.30,892.46" fill="#1A6FDF"/>
<path d="M814.60,1134.10 L905.80,961.98 L997.00,878.89 L1088.20,910.28 L1179.40,919.80 L1270.60,916.22" fill="none" stroke="#37AD6B" stroke-width="1.5" stroke-linejoin="round"/>
<polygon points="814.60,1140.00 808.90,1130.16 820.30,1130.16" fill="#37AD6B"/>
<polygon points="905.80,967.88 900.10,958.04 911.50,958.04" fill="#37AD6B"/>
<polygon points="997.00,884.80 991.30,874.96 1002.70,874.96" fill="#37AD6B"/>
<polygon points="1088.20,916.19 1082.50,906.35 1093.90,906.35" fill="#37AD6B"/>
<polygon points="1179.40,925.71 1173.70,915.87 1185.10,915.87" fill="#37AD6B"/>
<polygon points="1270.60,922.13 1264.90,912.29 1276.30,912.29" fill="#37AD6B"/>
<path d="M814.60,1134.10 L905.80,933.42 L997.00,845.43 L1088.20,865.28 L1179.40,878.49 L1270.60,873.99" fill="none" stroke="#B177DE" stroke-width="1.5" stroke-linejoin="round"/>
<polygon points="814.60,1128.28 820.42,1134.10 814.60,1139.92 808.78,1134.10" fill="#B177DE"/>
<polygon points="905.80,927.60 911.62,933.42 905.80,939.24 899.98,933.42" fill="#B177DE"/>
<polygon points="997.00,839.60 1002.82,845.43 997.00,851.25 991.18,845.43" fill="#B177DE"/>
<polygon points="1088.20,859.45 1094.02,865.28 1088.20,871.10 1082.38,865.28" fill="#B177DE"/>
<polygon points="1179.40,872.67 1185.22,878.49 1179.40,884.31 1173.58,878.49" fill="#B177DE"/>
<polygon points="1270.60,868.17 1276.42,873.99 1270.60,879.81 1264.78,873.99" fill="#B177DE"/>
<path d="M814.60,1134.10 L905.80,914.38 L997.00,839.48 L1088.20,861.18 L1179.40,869.89 L1270.60,867.12" fill="none" stroke="#CC9900" stroke-width="1.5" stroke-linejoin="round"/>
<polygon points="808.70,1134.10 818.54,1128.40 818.54,1139.80" fill="#CC9900"/>
<polygon points="899.90,914.38 909.74,908.68 909.74,920.08" fill="#CC9900"/>
<polygon points="991.10,839.48 1000.94,833.78 1000.94,845.18" fill="#CC9900"/>
<polygon points="1082.30,861.18 1092.14,855.48 1092.14,866.88" fill="#CC9900"/>
<polygon points="1173.50,869.89 1183.34,864.19 1183.34,875.59" fill="#CC9900"/>
<polygon points="1264.70,867.12 1274.54,861.42 1274.54,872.82" fill="#CC9900"/>
</g>
<path d="M814.60,729.20 V1134.10 H1317.20" fill="none" stroke="#000" stroke-width="2.0" stroke-linecap="butt" stroke-linejoin="miter"/>
<path d="M814.60,1134.10 v8.00 M860.20,1134.10 v4.00 M905.80,1134.10 v8.00 M951.40,1134.10 v4.00 M997.00,1134.10 v8.00 M1042.60,1134.10 v4.00 M1088.20,1134.10 v8.00 M1133.80,1134.10 v4.00 M1179.40,1134.10 v8.00 M1225.00,1134.10 v4.00 M1270.60,1134.10 v8.00 M1316.20,1134.10 v4.00 M814.60,1134.10 h-8.00 M814.60,1105.25 h-4.00 M814.60,1076.40 h-8.00 M814.60,1047.55 h-4.00 M814.60,1018.70 h-8.00 M814.60,989.85 h-4.00 M814.60,961.00 h-8.00 M814.60,932.15 h-4.00 M814.60,903.30 h-8.00 M814.60,874.45 h-4.00 M814.60,845.60 h-8.00 M814.60,816.75 h-4.00 M814.60,787.90 h-8.00 M814.60,759.05 h-4.00 M814.60,730.20 h-8.00" fill="none" stroke="#000" stroke-width="2.0"/>
<text x="814.60" y="1163.60" font-size="19" text-anchor="middle">0</text>
<text x="905.80" y="1163.60" font-size="19" text-anchor="middle">1</text>
<text x="997.00" y="1163.60" font-size="19" text-anchor="middle">2</text>
<text x="1088.20" y="1163.60" font-size="19" text-anchor="middle">3</text>
<text x="1179.40" y="1163.60" font-size="19" text-anchor="middle">4</text>
<text x="1270.60" y="1163.60" font-size="19" text-anchor="middle">5</text>
<text x="801.40" y="1140.52" font-size="19" text-anchor="end">0</text>
<text x="801.40" y="1082.82" font-size="19" text-anchor="end">100</text>
<text x="801.40" y="1025.12" font-size="19" text-anchor="end">200</text>
<text x="801.40" y="967.42" font-size="19" text-anchor="end">300</text>
<text x="801.40" y="909.72" font-size="19" text-anchor="end">400</text>
<text x="801.40" y="852.02" font-size="19" text-anchor="end">500</text>
<text x="801.40" y="794.32" font-size="19" text-anchor="end">600</text>
<text x="801.40" y="736.62" font-size="19" text-anchor="end">700</text>
<rect x="884.50" y="1011.00" width="435.50" height="101.80" fill="#fff" stroke="#666" stroke-width="1.5"/>
<line x1="885.90" y1="1020.10" x2="916.80" y2="1020.10" stroke="#515151" stroke-width="1.5"/>
<rect x="897.50" y="1016.00" width="8.20" height="8.20" fill="#515151"/>
<text x="920.40" y="1024.53" font-size="13.43" text-anchor="start" class="lg">The immobilized particles contained 0% Rhodopseudomonas spheroides</text>
<line x1="885.90" y1="1036.80" x2="916.80" y2="1036.80" stroke="#F14040" stroke-width="1.5"/>
<circle cx="901.60" cy="1036.80" r="4.71" fill="#F14040"/>
<text x="920.40" y="1041.23" font-size="13.43" text-anchor="start" class="lg">The immobilized particles contained 10% Rhodopseudomonas spheroides</text>
<line x1="885.90" y1="1053.50" x2="916.80" y2="1053.50" stroke="#1A6FDF" stroke-width="1.5"/>
<polygon points="901.60,1047.60 895.90,1057.44 907.30,1057.44" fill="#1A6FDF"/>
<text x="920.40" y="1057.93" font-size="13.43" text-anchor="start" class="lg">The immobilized particles contained 20% Rhodopseudomonas spheroides</text>
<line x1="885.90" y1="1070.20" x2="916.80" y2="1070.20" stroke="#37AD6B" stroke-width="1.5"/>
<polygon points="901.60,1076.10 895.90,1066.26 907.30,1066.26" fill="#37AD6B"/>
<text x="920.40" y="1074.63" font-size="13.43" text-anchor="start" class="lg">The immobilized particles contained 30% Rhodopseudomonas spheroides</text>
<line x1="885.90" y1="1086.90" x2="916.80" y2="1086.90" stroke="#B177DE" stroke-width="1.5"/>
<polygon points="901.60,1081.08 907.42,1086.90 901.60,1092.72 895.78,1086.90" fill="#B177DE"/>
<text x="920.40" y="1091.33" font-size="13.43" text-anchor="start" class="lg">The immobilized particles contained 40% Rhodopseudomonas spheroides</text>
<line x1="885.90" y1="1103.60" x2="916.80" y2="1103.60" stroke="#CC9900" stroke-width="1.5"/>
<polygon points="895.70,1103.60 905.54,1097.90 905.54,1109.30" fill="#CC9900"/>
<text x="920.40" y="1108.03" font-size="13.43" text-anchor="start" class="lg">The immobilized particles contained 50% Rhodopseudomonas spheroides</text>
<text transform="translate(762.50,931.90) rotate(-90)" font-size="26.7" text-anchor="middle">COD (mg/L)</text>
<text x="1065.30" y="1200.90" font-size="26.6" text-anchor="middle">t (d)</text>
<text class="cp" x="914.50" y="1263.60" font-size="42">(e) COD change</text>
<clipPath id="c5"><rect x="1487.80" y="731.55" width="498.74" height="401.25"/></clipPath>
<g clip-path="url(#c5)">
<path d="M1487.80,763.65 L1578.48,851.60 L1669.16,895.74 L1759.84,907.54 L1850.52,909.87 L1941.20,916.69" fill="none" stroke="#515151" stroke-width="1.5" stroke-linejoin="round"/>
<rect x="1483.50" y="759.35" width="8.60" height="8.60" fill="#515151"/>
<rect x="1574.18" y="847.30" width="8.60" height="8.60" fill="#515151"/>
<rect x="1664.86" y="891.44" width="8.60" height="8.60" fill="#515151"/>
<rect x="1755.54" y="903.24" width="8.60" height="8.60" fill="#515151"/>
<rect x="1846.22" y="905.57" width="8.60" height="8.60" fill="#515151"/>
<rect x="1936.90" y="912.39" width="8.60" height="8.60" fill="#515151"/>
<path d="M1487.80,763.65 L1578.48,923.03 L1669.16,1009.94 L1759.84,1059.93 L1850.52,1093.16 L1941.20,1098.61" fill="none" stroke="#F14040" stroke-width="1.5" stroke-linejoin="round"/>
<circle cx="1487.80" cy="763.65" r="4.94" fill="#F14040"/>
<circle cx="1578.48" cy="923.03" r="4.94" fill="#F14040"/>
<circle cx="1669.16" cy="1009.94" r="4.94" fill="#F14040"/>
<circle cx="1759.84" cy="1059.93" r="4.94" fill="#F14040"/>
<circle cx="1850.52" cy="1093.16" r="4.94" fill="#F14040"/>
<circle cx="1941.20" cy="1098.61" r="4.94" fill="#F14040"/>
<path d="M1487.80,763.65 L1578.48,915.24 L1669.16,996.70 L1759.84,1045.81 L1850.52,1075.82 L1941.20,1077.27" fill="none" stroke="#1A6FDF" stroke-width="1.5" stroke-linejoin="round"/>
<polygon points="1487.80,757.46 1481.82,767.78 1493.78,767.78" fill="#1A6FDF"/>
<polygon points="1578.48,909.05 1572.50,919.37 1584.46,919.37" fill="#1A6FDF"/>
<polygon points="1669.16,990.50 1663.18,1000.82 1675.14,1000.82" fill="#1A6FDF"/>
<polygon points="1759.84,1039.62 1753.86,1049.94 1765.82,1049.94" fill="#1A6FDF"/>
<polygon points="1850.52,1069.63 1844.54,1079.95 1856.50,1079.95" fill="#1A6FDF"/>
<polygon points="1941.20,1071.08 1935.22,1081.39 1947.18,1081.39" fill="#1A6FDF"/>
<path d="M1487.80,763.65 L1578.48,948.47 L1669.16,1024.06 L1759.84,1069.00 L1850.52,1102.22 L1941.20,1100.38" fill="none" stroke="#37AD6B" stroke-width="1.5" stroke-linejoin="round"/>
<polygon points="1487.80,769.84 1481.82,759.52 1493.78,759.52" fill="#37AD6B"/>
<polygon points="1578.48,954.66 1572.50,944.34 1584.46,944.34" fill="#37AD6B"/>
<polygon points="1669.16,1030.25 1663.18,1019.93 1675.14,1019.93" fill="#37AD6B"/>
<polygon points="1759.84,1075.19 1753.86,1064.87 1765.82,1064.87" fill="#37AD6B"/>
<polygon points="1850.52,1108.42 1844.54,1098.10 1856.50,1098.10" fill="#37AD6B"/>
<polygon points="1941.20,1106.57 1935.22,1096.25 1947.18,1096.25" fill="#37AD6B"/>
<path d="M1487.80,763.65 L1578.48,933.46 L1669.16,985.78 L1759.84,1037.14 L1850.52,1060.41 L1941.20,1060.41" fill="none" stroke="#B177DE" stroke-width="1.5" stroke-linejoin="round"/>
<polygon points="1487.80,757.54 1493.91,763.65 1487.80,769.76 1481.69,763.65" fill="#B177DE"/>
<polygon points="1578.48,927.35 1584.59,933.46 1578.48,939.56 1572.37,933.46" fill="#B177DE"/>
<polygon points="1669.16,979.68 1675.27,985.78 1669.16,991.89 1663.05,985.78" fill="#B177DE"/>
<polygon points="1759.84,1031.04 1765.95,1037.14 1759.84,1043.25 1753.73,1037.14" fill="#B177DE"/>
<polygon points="1850.52,1054.31 1856.63,1060.41 1850.52,1066.52 1844.41,1060.41" fill="#B177DE"/>
<polygon points="1941.20,1054.31 1947.31,1060.41 1941.20,1066.52 1935.09,1060.41" fill="#B177DE"/>
<path d="M1487.80,763.65 L1578.48,928.96 L1669.16,971.66 L1759.84,1024.46 L1850.52,1050.38 L1941.20,1053.11" fill="none" stroke="#CC9900" stroke-width="1.5" stroke-linejoin="round"/>
<polygon points="1481.61,763.65 1491.93,757.67 1491.93,769.63" fill="#CC9900"/>
<polygon points="1572.29,928.96 1582.61,922.99 1582.61,934.94" fill="#CC9900"/>
<polygon points="1662.97,971.66 1673.29,965.68 1673.29,977.63" fill="#CC9900"/>
<polygon points="1753.65,1024.46 1763.97,1018.49 1763.97,1030.44" fill="#CC9900"/>
<polygon points="1844.33,1050.38 1854.65,1044.41 1854.65,1056.36" fill="#CC9900"/>
<polygon points="1935.01,1053.11 1945.33,1047.13 1945.33,1059.09" fill="#CC9900"/>
</g>
<path d="M1487.80,730.55 V1132.80 H1987.54" fill="none" stroke="#000" stroke-width="2.0" stroke-linecap="butt" stroke-linejoin="miter"/>
<path d="M1487.80,1132.80 v8.00 M1533.14,1132.80 v4.00 M1578.48,1132.80 v8.00 M1623.82,1132.80 v4.00 M1669.16,1132.80 v8.00 M1714.50,1132.80 v4.00 M1759.84,1132.80 v8.00 M1805.18,1132.80 v4.00 M1850.52,1132.80 v8.00 M1895.86,1132.80 v4.00 M1941.20,1132.80 v8.00 M1986.54,1132.80 v4.00 M1487.80,1132.80 h-4.00 M1487.80,1092.67 h-8.00 M1487.80,1052.55 h-4.00 M1487.80,1012.42 h-8.00 M1487.80,972.30 h-4.00 M1487.80,932.17 h-8.00 M1487.80,892.05 h-4.00 M1487.80,851.92 h-8.00 M1487.80,811.80 h-4.00 M1487.80,771.67 h-8.00 M1487.80,731.55 h-4.00" fill="none" stroke="#000" stroke-width="2.0"/>
<text x="1487.80" y="1160.90" font-size="19" text-anchor="middle">0</text>
<text x="1578.48" y="1160.90" font-size="19" text-anchor="middle">1</text>
<text x="1669.16" y="1160.90" font-size="19" text-anchor="middle">2</text>
<text x="1759.84" y="1160.90" font-size="19" text-anchor="middle">3</text>
<text x="1850.52" y="1160.90" font-size="19" text-anchor="middle">4</text>
<text x="1941.20" y="1160.90" font-size="19" text-anchor="middle">5</text>
<text x="1474.40" y="1099.10" font-size="19" text-anchor="end">-100</text>
<text x="1474.40" y="1018.85" font-size="19" text-anchor="end">0</text>
<text x="1474.40" y="938.60" font-size="19" text-anchor="end">100</text>
<text x="1474.40" y="858.35" font-size="19" text-anchor="end">200</text>
<text x="1474.40" y="778.10" font-size="19" text-anchor="end">300</text>
<rect x="1561.70" y="727.70" width="433.20" height="100.90" fill="#fff" stroke="#666" stroke-width="1.5"/>
<line x1="1564.00" y1="736.90" x2="1594.00" y2="736.90" stroke="#515151" stroke-width="1.5"/>
<rect x="1574.70" y="732.60" width="8.60" height="8.60" fill="#515151"/>
<text x="1597.60" y="741.30" font-size="13.34" text-anchor="start" class="lg">The immobilized particles contained 0% Rhodopseudomonas spheroides</text>
<line x1="1564.00" y1="753.40" x2="1594.00" y2="753.40" stroke="#F14040" stroke-width="1.5"/>
<circle cx="1579.00" cy="753.40" r="4.94" fill="#F14040"/>
<text x="1597.60" y="757.80" font-size="13.34" text-anchor="start" class="lg">The immobilized particles contained 10% Rhodopseudomonas spheroides</text>
<line x1="1564.00" y1="769.90" x2="1594.00" y2="769.90" stroke="#1A6FDF" stroke-width="1.5"/>
<polygon points="1579.00,763.71 1573.02,774.03 1584.98,774.03" fill="#1A6FDF"/>
<text x="1597.60" y="774.30" font-size="13.34" text-anchor="start" class="lg">The immobilized particles contained 20% Rhodopseudomonas spheroides</text>
<line x1="1564.00" y1="786.40" x2="1594.00" y2="786.40" stroke="#37AD6B" stroke-width="1.5"/>
<polygon points="1579.00,792.59 1573.02,782.27 1584.98,782.27" fill="#37AD6B"/>
<text x="1597.60" y="790.80" font-size="13.34" text-anchor="start" class="lg">The immobilized particles contained 30% Rhodopseudomonas spheroides</text>
<line x1="1564.00" y1="802.90" x2="1594.00" y2="802.90" stroke="#B177DE" stroke-width="1.5"/>
<polygon points="1579.00,796.79 1585.11,802.90 1579.00,809.01 1572.89,802.90" fill="#B177DE"/>
<text x="1597.60" y="807.30" font-size="13.34" text-anchor="start" class="lg">The immobilized particles contained 40% Rhodopseudomonas spheroides</text>
<line x1="1564.00" y1="819.40" x2="1594.00" y2="819.40" stroke="#CC9900" stroke-width="1.5"/>
<polygon points="1572.81,819.40 1583.13,813.42 1583.13,825.38" fill="#CC9900"/>
<text x="1597.60" y="823.80" font-size="13.34" text-anchor="start" class="lg">The immobilized particles contained 50% Rhodopseudomonas spheroides</text>
<text transform="translate(1429.70,931.80) rotate(-90)" font-size="26.5" text-anchor="middle">ORP (mV)</text>
<text x="1737.30" y="1199.30" font-size="26.5" text-anchor="middle">t (d)</text>
<text class="cp" x="1606.00" y="1263.30" font-size="42">(f) ORP change</text>
</svg>
</body></html>
